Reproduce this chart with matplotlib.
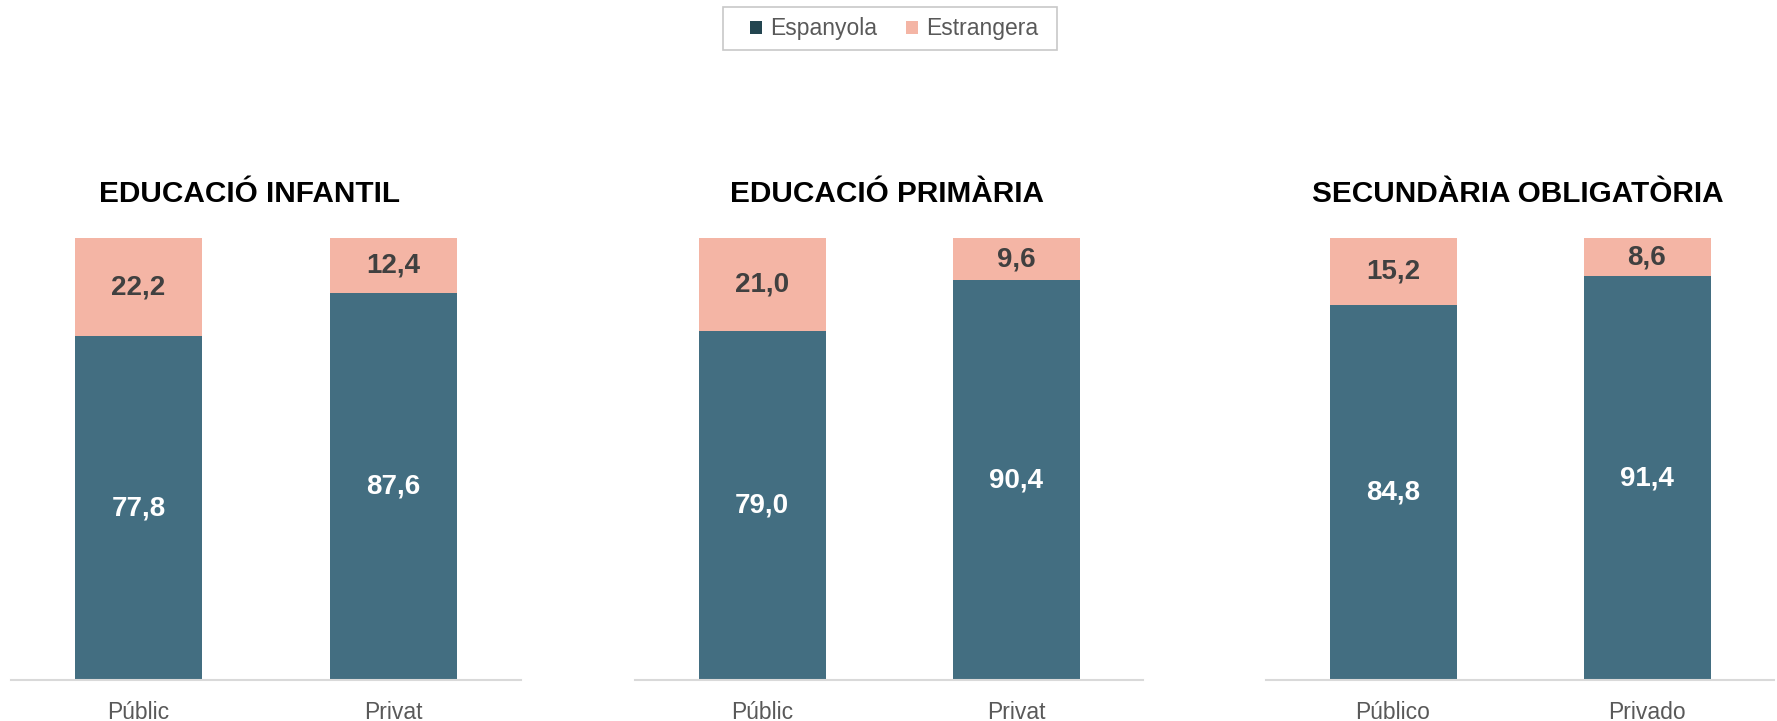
import numpy as np
import matplotlib
matplotlib.use("Agg")
import matplotlib.pyplot as plt
from matplotlib.patches import Patch, Rectangle

plt.rcParams['font.family'] = ['Liberation Sans', 'DejaVu Sans']

# data
titles = ["EDUCACIÓ INFANTIL", "EDUCACIÓ PRIMÀRIA", "SECUNDÀRIA OBLIGATÒRIA"]
categories = [["Públic", "Privat"], ["Públic", "Privat"], ["Público", "Privado"]]
espanyola = [[77.8, 87.6], [79.0, 90.4], [84.8, 91.4]]
estrangera = [[22.2, 12.4], [21.0, 9.6], [15.2, 8.6]]

col_esp = "#436e81"
col_esp_leg = "#234550"
col_est = "#f4b5a5"

W, H = 1777, 721
fig = plt.figure(figsize=(W / 100, H / 100), dpi=100)

# axes placement (figure fractions)
lefts = [11 / W, 635 / W, 1266 / W]
widths = [510 / W, 508 / W, 508 / W]
title_x = [0.467, 0.497, 0.495]
bottom = 41 / H
height = 442 / H

def fmt(v):
    return f"{v:.1f}".replace(".", ",")

for i in range(3):
    ax = fig.add_axes([lefts[i], bottom, widths[i], height])
    x = np.arange(len(categories[i]))
    b1 = ax.bar(x, espanyola[i], width=0.5, color=col_esp)
    b2 = ax.bar(x, estrangera[i], width=0.5, bottom=espanyola[i], color=col_est)
    ax.bar_label(b1, labels=[fmt(v) for v in espanyola[i]], label_type="center",
                 color="white", fontsize=20, fontweight="bold")
    ax.bar_label(b2, labels=[fmt(v) for v in estrangera[i]], label_type="center",
                 color="#404040", fontsize=20, fontweight="bold")
    ax.set_xlim(-0.5, 1.5)
    ax.set_ylim(0, 100)
    ax.set_xticks(x)
    ax.set_xticklabels(categories[i], fontsize=16.5, color="#595959")
    ax.tick_params(axis="x", length=0, pad=15)
    ax.set_yticks([])
    for s in ["top", "right", "left"]:
        ax.spines[s].set_visible(False)
    ax.spines["bottom"].set_color("#d9d9d9")
    ax.spines["bottom"].set_linewidth(1.5)
    ax.set_title(titles[i], fontsize=21.4, fontweight="bold", pad=26, color="black",
                 x=title_x[i])

handles = [Patch(facecolor=col_esp_leg, label="Espanyola"),
           Patch(facecolor=col_est, label="Estrangera")]
leg = fig.legend(handles=handles, loc="center", bbox_to_anchor=(894 / W, 1 - 29 / H),
                 ncol=2, fontsize=16.5, frameon=False,
                 handlelength=0.52, handleheight=0.52, handletextpad=0.35,
                 columnspacing=1.25, borderpad=0.2)
for t in leg.get_texts():
    t.set_color("#595959")

# legend frame
fig.patches.append(Rectangle((723 / W, 1 - 50 / H), 334 / W, 43 / H,
                             transform=fig.transFigure, fill=False,
                             edgecolor="#c8c8c8", linewidth=1.2))

fig.savefig("out.png", dpi=100)
